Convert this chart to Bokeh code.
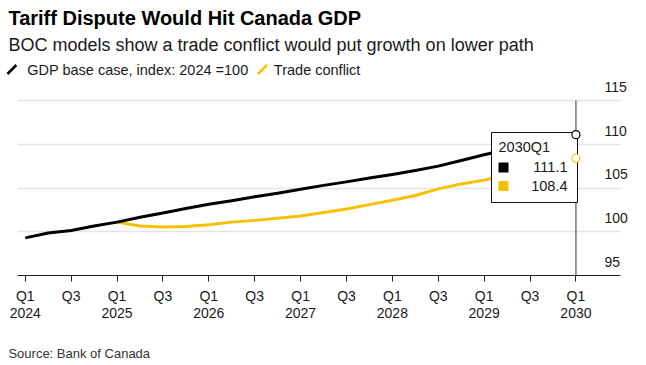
from bokeh.plotting import figure
from bokeh.layouts import column
from bokeh.models import (Range1d, LinearAxis, FixedTicker, Label, BoxAnnotation, Grid)
from bokeh.embed import file_html
from bokeh.resources import INLINE

# ---------------- data ----------------
quarters = ["2024Q1", "2024Q2", "2024Q3", "2024Q4",
            "2025Q1", "2025Q2", "2025Q3", "2025Q4",
            "2026Q1", "2026Q2", "2026Q3", "2026Q4",
            "2027Q1", "2027Q2", "2027Q3", "2027Q4",
            "2028Q1", "2028Q2", "2028Q3", "2028Q4",
            "2029Q1", "2029Q2", "2029Q3", "2029Q4",
            "2030Q1"]
base_case = [99.3, 99.85, 100.15, 100.65,
             101.1, 101.65, 102.15, 102.65,
             103.15, 103.55, 104.0, 104.4,
             104.85, 105.3, 105.7, 106.15,
             106.55, 107.0, 107.5, 108.15,
             108.8, 109.4, 110.0, 110.55,
             111.1]
conflict_start = "2025Q1"
trade_conflict = [101.1, 100.65, 100.55, 100.6,
                  100.8, 101.1, 101.3, 101.55,
                  101.8, 102.2, 102.6, 103.1,
                  103.6, 104.15, 104.9, 105.45,
                  105.9, 106.5, 107.1, 107.75,
                  108.4]
y_ticks = [95, 100, 105, 110, 115]

title = "Tariff Dispute Would Hit Canada GDP"
subtitle = "BOC models show a trade conflict would put growth on lower path"
legend_base = "GDP base case, index: 2024 =100"
legend_trade = "Trade conflict"
source = "Source: Bank of Canada"

# ---------------- style ----------------
FONT = "Liberation Sans"
BLACK = "#000000"
YELLOW = "#F7C000"
TXT = "#1a1a1a"
W = 630
RB = 4                      # common right border
HEAD_H, MAIN_H, FOOT_H = 77, 251, 32
BL = 0.37                   # alphabetic baseline correction (em)


def text_label(fig, x, y, text, fs, **kw):
    fig.add_layout(Label(x=x, y=y - BL * fs, text=text, text_font=FONT,
                         text_font_size=f"{fs}px", text_baseline="alphabetic", **kw))


def blank_fig(h):
    f = figure(width=W, height=h, output_backend="svg", toolbar_location=None,
               x_range=Range1d(0, W - RB), y_range=Range1d(h, 0),
               x_axis_location=None, y_axis_location=None,
               min_border_left=0, min_border_right=RB,
               min_border_top=0, min_border_bottom=0)
    f.outline_line_color = None
    for g in f.grid:
        g.visible = False
    return f


# ---------------- header ----------------
head = blank_fig(HEAD_H)
text_label(head, 8, 25, title, 20, text_font_style="bold", text_color="#000000")
text_label(head, 8, 51, subtitle, 18, text_color=TXT)
for (x0, col, txt, tx) in [(7, BLACK, legend_base, 27), (260, YELLOW, legend_trade, 276)]:
    head.segment(x0=[x0], y0=[73.5], x1=[x0 + 9], y1=[64.5], line_color=col,
                 line_width=2.5)
    text_label(head, tx, 75, txt, 14.5, text_color=TXT)

# ---------------- main chart ----------------
x_idx = list(range(len(quarters)))
s = quarters.index(conflict_start)
x_trade = x_idx[s:s + len(trade_conflict)]

tick_pos = x_idx[::2]
tick_labels = {}
for i in tick_pos:
    q = quarters[i]
    tick_labels[i] = ("Q1\n" + q[:4]) if q.endswith("Q1") else q[4:]

FB = 198                            # frame height (frame bottom in main fig)
X0, X1 = -1.079, 25.942             # visible quarter-index range
AX0 = -0.345                        # where axis line / gridlines start
Y1 = 95 + FB / 8.75
p = figure(width=W, height=MAIN_H, output_backend="svg", toolbar_location=None,
           x_range=Range1d(X0, X1), y_range=Range1d(95, Y1),
           y_axis_location=None, min_border_left=0, min_border_right=RB,
           min_border_top=0, min_border_bottom=MAIN_H - FB)
p.outline_line_color = None
for g in p.grid:
    g.visible = False
p.add_layout(Grid(dimension=1, ticker=FixedTicker(ticks=y_ticks[1:]),
                  cross_bounds=(AX0, X1),
                  grid_line_color="#e4e4e4", grid_line_width=1.5))

xa = p.xaxis[0]
xa.ticker = FixedTicker(ticks=tick_pos)
xa.bounds = (AX0, X1)
xa.major_label_overrides = tick_labels
xa.axis_line_color = "#222222"
xa.axis_line_width = 1
xa.major_tick_line_color = "#222222"
xa.major_tick_out = 6
xa.major_tick_in = 0
xa.minor_tick_line_color = None
xa.major_label_standoff = 6
xa.major_label_text_font = FONT
xa.major_label_text_font_size = "14px"
xa.major_label_text_color = TXT
xa.major_label_text_line_height = 1.08

d = 1.55
p.extra_y_ranges = {"ylab": Range1d(95 - d, Y1 - d)}
ya = LinearAxis(y_range_name="ylab", ticker=FixedTicker(ticks=y_ticks),
                axis_line_color=None, major_tick_line_color=None,
                minor_tick_line_color=None, major_label_standoff=-22,
                major_label_text_font=FONT, major_label_text_font_size="14px",
                major_label_text_color=TXT)
p.add_layout(ya, "right")

p.line(x_trade, trade_conflict, line_color=YELLOW, line_width=3, line_join="round")
p.line(x_idx, base_case, line_color=BLACK, line_width=3, line_join="round")

last = x_idx[-1]
p.segment(x0=[last], y0=[y_ticks[0]], x1=[last], y1=[y_ticks[-1]],
          line_color="#333333", line_width=1)

# tooltip: page coords converted to frame screen units (origin frame left/bottom)
PAGE_FL, PAGE_FB = 0, HEAD_H + FB


def sx(px):
    return px - PAGE_FL


def sy(py):
    return PAGE_FB - py


def box(l, r, t, b, **kw):
    p.add_layout(BoxAnnotation(left=sx(l), right=sx(r), top=sy(t), bottom=sy(b),
                               left_units="screen", right_units="screen",
                               top_units="screen", bottom_units="screen", **kw))


def tip_text(x, y, text, **kw):
    fs = 14.5
    p.add_layout(Label(x=sx(x), y=sy(y) + BL * fs, x_units="screen", y_units="screen",
                       text=text, text_font=FONT, text_font_size=f"{fs}px",
                       text_color=TXT, text_baseline="alphabetic", **kw))


box(491, 577, 132, 202, fill_color="white", fill_alpha=1.0,
    line_color="#111111", line_width=1, line_alpha=1.0)
tip_text(498, 152, quarters[-1])
for row, (val, col) in enumerate([(base_case[-1], BLACK), (trade_conflict[-1], YELLOW)]):
    base_y = 172 + row * 18.5
    box(498, 508, base_y - 10, base_y, fill_color=col, fill_alpha=1.0, line_color=None)
    tip_text(567, base_y, f"{val:.1f}", text_align="right")

circ = p.scatter([last, last], [base_case[-1], trade_conflict[-1]], size=8,
                 fill_color="white", line_color=[BLACK, YELLOW], line_width=1.2)
circ.level = "overlay"

# ---------------- footer ----------------
foot = blank_fig(FOOT_H)
text_label(foot, 8, 358 - HEAD_H - MAIN_H, source, 13, text_color="#333333")

layout = column(head, p, foot, spacing=0)
open("out.html", "w").write(file_html(layout, INLINE))
